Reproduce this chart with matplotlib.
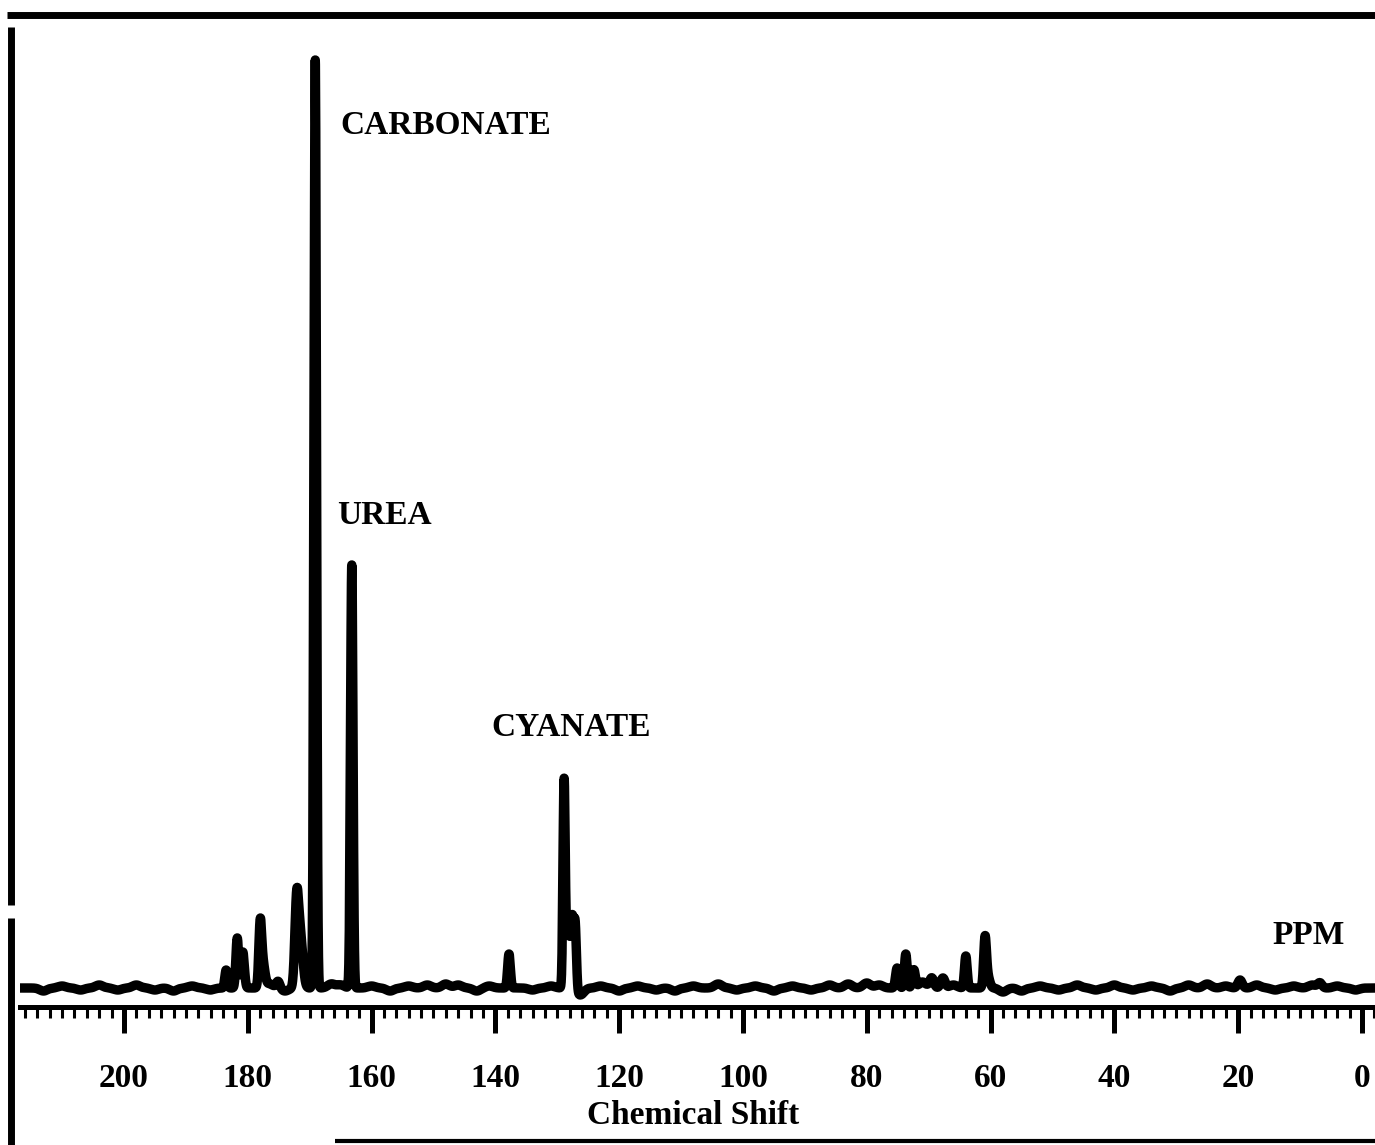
import numpy as np
import matplotlib
matplotlib.use('Agg')
import matplotlib.pyplot as plt
from matplotlib.lines import Line2D
from matplotlib.ticker import MultipleLocator

# ----------------------------------------------------------------------------------------------------------------------
# peak table (chemical shift [ppm], intensity [a.u.], width [ppm])
peak_ppm = [169.1, 163.2, 128.9, 128.3, 127.6, 127.1, 172.1, 171.5, 178.0, 177.6, 181.7, 180.8, 183.5, 175.1,
            137.8, 75.1, 73.7, 72.4, 69.5, 67.7, 64.0, 60.9, 60.5, 19.7, 6.8]
peak_height = [928, 423, 206, 68, 70, 60, 82, 50, 56, 25, 50, 36, 18, 7,
               34, 20, 34, 18, 10, 10, 32, 46, 12, 8, 5]
peak_width = [0.2, 0.2, 0.18, 0.25, 0.25, 0.2, 0.3, 0.4, 0.22, 0.35, 0.22, 0.25, 0.2, 0.3,
              0.22, 0.25, 0.22, 0.25, 0.35, 0.35, 0.22, 0.22, 0.35, 0.35, 0.35]

# baseline ripple (chemical shift [ppm], offset [a.u.])
ripple_ppm = [213, 210, 207, 204, 201, 198, 195, 192, 189, 186, 176.5, 174, 166.5, 165, 160, 157, 154, 151,
              148, 146, 143, 141, 134, 131, 126.3, 123, 120, 117, 114, 111, 108, 104, 101, 98, 95, 92, 89,
              86, 83, 80, 78, 71, 66, 58, 55, 52, 49, 46, 43, 40, 37, 34, 31, 28, 25, 22, 17, 14, 11,
              8, 4, 1]
ripple_height = [-3, 2, -2, 3, -2, 3, -2, -3, 2, -2, 4, -3, 4, 3, 2, -3, 2, 3,
                 4, 3, -3, 2, -2, 2, -7, 2, -3, 2, -2, -3, 2, 4, -2, 2, -3, 2, -2,
                 3, 4, 5, 3, 6, 3, -4, -3, 2, -2, 3, -2, 3, -2, 2, -3, 3, 4, 2, 3, -2, 2,
                 3, 2, -2]

# axis and label settings
ppm_min, ppm_max = -2.1, 216.8
ticks_major, ticks_minor = 20, 2
labels_peak = [('CARBONATE', 165.1, 863), ('UREA', 165.6, 472), ('CYANATE', 140.7, 261), ('PPM', 14.5, 53)]
label_axis = 'Chemical Shift'
# ----------------------------------------------------------------------------------------------------------------------


# ----------------------------------------------------------------------------------------------------------------------
# method to build spectrum from gaussian lines
def build_spectrum(ppm_grid, centers, heights, widths):
    values = np.zeros_like(ppm_grid)
    for center, height, width in zip(centers, heights, widths):
        values += height * np.exp(-0.5 * ((ppm_grid - center) / width) ** 2)
    return values
# ----------------------------------------------------------------------------------------------------------------------


# ----------------------------------------------------------------------------------------------------------------------
# figure
fig_w, fig_h = 1375, 1145
fig = plt.figure(figsize=(fig_w / 100, fig_h / 100), dpi=100)
ax = fig.add_axes([20 / fig_w, 1 - 1007 / fig_h, 1 - 20 / fig_w, (1007 - 40) / fig_h])

ppm_grid = np.arange(ppm_min, ppm_max, 0.02)
spectrum = build_spectrum(ppm_grid, peak_ppm, peak_height, peak_width)
spectrum += build_spectrum(ppm_grid, ripple_ppm, ripple_height, [0.6] * len(ripple_ppm))

ax.plot(ppm_grid, spectrum, color='black', lw=6.8, solid_joinstyle='round', solid_capstyle='round')

ax.set_xlim(ppm_max, ppm_min)
ax.set_ylim(-19, 948)

font_serif = dict(family=['Liberation Serif', 'DejaVu Serif'], fontweight='bold', color='black')

for spine in ['top', 'left', 'right']:
    ax.spines[spine].set_visible(False)
ax.spines['bottom'].set_linewidth(3.6)
ax.set_yticks([])
ax.xaxis.set_major_locator(MultipleLocator(ticks_major))
ax.xaxis.set_minor_locator(MultipleLocator(ticks_minor))
ax.tick_params(axis='x', which='major', direction='out', length=19, width=3.6, pad=21)
ax.tick_params(axis='x', which='minor', direction='out', length=8, width=2.2)
for label in ax.get_xticklabels():
    label.set_fontfamily(font_serif['family'])
    label.set_fontweight('bold')
    label.set_fontsize(24)

for text, x_ppm, y_val in labels_peak:
    ax.text(x_ppm, y_val, text, fontsize=24, ha='left', va='center', **font_serif)

fig.text(693 / fig_w, 1 - 1115 / fig_h, label_axis, fontsize=24, ha='center', va='center', **font_serif)

# page frame
def px_line(x_px, y_px, lw):
    fig.add_artist(Line2D([x / fig_w for x in x_px], [1 - y / fig_h for y in y_px],
                          transform=fig.transFigure, color='black', lw=lw, solid_capstyle='butt'))

px_line([7, 1375], [15, 15], 5.0)
px_line([11, 11], [27, 905], 5.0)
px_line([11, 11], [918, 1145], 5.0)
px_line([335, 1375], [1141, 1141], 3.0)

fig.savefig('out.png', dpi=100)
# ----------------------------------------------------------------------------------------------------------------------
